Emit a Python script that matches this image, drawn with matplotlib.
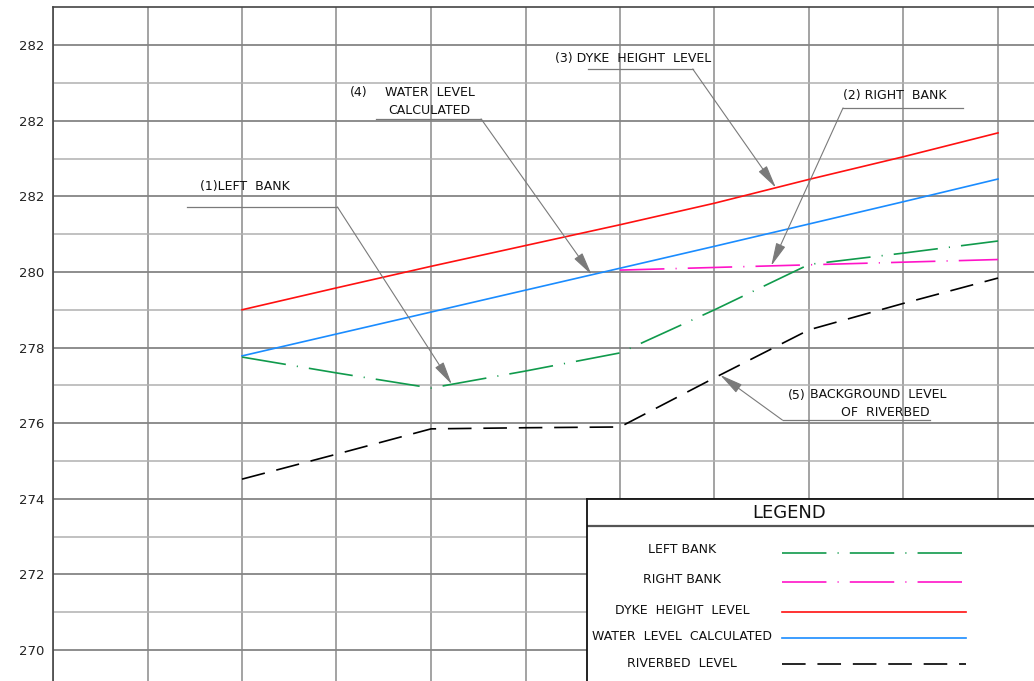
import numpy as np
import matplotlib
matplotlib.use("Agg")
import matplotlib.pyplot as plt

plt.rcParams['font.family'] = ['DejaVu Sans']
plt.rcParams['lines.scale_dashes'] = False

# ---------------- data ----------------
stations = [2, 3, 4, 5, 6, 7, 8, 9, 10]
left_bank = [277.75, 277.33, 276.93, 277.38, 277.86, 279.0, 280.2, 280.5, 280.82]
right_bank_x = [6, 10]
right_bank = [280.05, 280.33]
dyke = [279.0, 279.58, 280.15, 280.7, 281.25, 281.82, 282.45, 283.05, 283.68]
water = [277.78, 278.36, 278.94, 279.52, 280.1, 280.68, 281.27, 281.86, 282.46]
riverbed = [274.52, 275.18, 275.85, 275.88, 275.9, 277.2, 278.47, 279.17, 279.84]

ytick_vals = [286, 284, 282, 280, 278, 276, 274, 272, 270]
ytick_labels = ['282', '282', '282', '280', '278', '276', '274', '272', '270']

legend_labels = ['LEFT BANK', 'RIGHT BANK', 'DYKE  HEIGHT  LEVEL',
                 'WATER  LEVEL  CALCULATED', 'RIVERBED  LEVEL']

# ---------------- styles ----------------
C_GREEN = '#109a4c'
C_MAG = '#ff14c8'
C_RED = '#ff1010'
C_BLUE = '#1a8cff'
C_BLACK = '#000000'
DASHDOT = (0, (32, 8, 0.8, 8))
DASH = (0, (17, 8.5))
LW = 1.2

W, H = 1034, 681
fig = plt.figure(figsize=(W / 100, H / 100), dpi=100)
ax = fig.add_axes([53 / W, 0, (W - 53) / W, (H - 7) / H])
ax.set_xlim(0, (W - 53) / 94.5)
ax.set_ylim(270 - 31 / 37.8, 270 + 643 / 37.8)

# grid
for xv in range(0, 11):
    ax.axvline(xv, color='#8a8a8a', lw=1.1, zorder=1)
for yv in range(270, 287):
    if yv % 2 == 0:
        ax.axhline(yv, color='#858585', lw=1.3, zorder=1)
    else:
        ax.axhline(yv, color='#b0b0b0', lw=1.1, zorder=1)

for s in ['right', 'bottom']:
    ax.spines[s].set_visible(False)
for s in ['left', 'top']:
    ax.spines[s].set_color('#444444')
    ax.spines[s].set_linewidth(1.2)
ax.set_xticks([])
ax.set_yticks(ytick_vals)
ax.set_yticklabels(ytick_labels, fontsize=9.5, color='#222222')
ax.tick_params(axis='y', length=0, pad=6)

# series
ax.plot(stations, dyke, color=C_RED, lw=LW, zorder=3)
ax.plot(stations, water, color=C_BLUE, lw=LW, zorder=3)
ax.plot(stations, left_bank, color=C_GREEN, lw=LW, linestyle=DASHDOT, zorder=3)
ax.plot(right_bank_x, right_bank, color=C_MAG, lw=LW, linestyle=DASHDOT, zorder=3)
ax.plot(stations, riverbed, color=C_BLACK, lw=LW, linestyle=DASH, zorder=3)

# annotations
LEAD = '#7a7a7a'
TF = dict(fontsize=9, color='#111111', ha='center', va='center', zorder=5)
AP = dict(arrowstyle='-|>,head_length=1.3,head_width=0.28', color=LEAD, lw=0.8,
          shrinkA=0, shrinkB=0, mutation_scale=11)


def leader(x0, x1, y, start_x, tip_x, xs, ys):
    ax.plot([x0, x1], [y, y], color=LEAD, lw=0.9, zorder=4)
    tip_y = float(np.interp(tip_x, xs, ys))
    ax.annotate('', xy=(tip_x, tip_y), xytext=(start_x, y), arrowprops=AP, zorder=4)


# (1) left bank
ax.text(2.03, 282.25, '(1)LEFT  BANK', **TF)
leader(1.42, 3.01, 281.72, 3.01, 4.22, stations, left_bank)
# (4) water level calculated
ax.text(3.24, 284.74, '(4)', **TF)
ax.text(3.99, 284.74, 'WATER  LEVEL', **TF)
ax.text(3.98, 284.26, 'CALCULATED', **TF)
leader(3.42, 4.53, 284.05, 4.53, 5.70, stations, water)
# (3) dyke height level
ax.text(6.14, 285.66, '(3) DYKE  HEIGHT  LEVEL', **TF)
leader(5.66, 6.77, 285.37, 6.77, 7.65, stations, dyke)
# (2) right bank
ax.text(8.91, 284.66, '(2) RIGHT  BANK', **TF)
leader(8.36, 9.63, 284.34, 8.36, 7.6, right_bank_x, right_bank)
# (5) background level of riverbed
ax.text(7.87, 276.72, '(5)', **TF)
ax.text(8.73, 276.77, 'BACKGROUND  LEVEL', **TF)
ax.text(8.81, 276.27, 'OF  RIVERBED', **TF)
leader(7.72, 9.28, 276.08, 7.72, 7.06, stations, riverbed)

# ---------------- legend box ----------------
lax = fig.add_axes([587 / W, 0, (W - 587) / W, (H - 499) / H], zorder=10)
lax.set_xlim(587, W)
lax.set_ylim(H, 499)
lax.set_facecolor('white')
lax.set_xticks([])
lax.set_yticks([])
for s in ['right', 'bottom']:
    lax.spines[s].set_visible(False)
for s in ['left', 'top']:
    lax.spines[s].set_color('#111111')
    lax.spines[s].set_linewidth(1.3)
lax.axhline(526.5, color='#555555', lw=1.6)
lax.text(789, 513, 'LEGEND', fontsize=13, ha='center', va='center', color='#111111')

styles = [(C_GREEN, DASHDOT), (C_MAG, DASHDOT), (C_RED, '-'), (C_BLUE, '-'), (C_BLACK, DASH)]
label_y = [550, 580, 611, 637, 664]
line_y = [553, 582, 612, 638, 664]
for lab, (c, ls), ty, ly in zip(legend_labels, styles, label_y, line_y):
    lax.text(682, ty, lab, fontsize=9, ha='center', va='center', color='#111111')
    lax.plot([782, 966], [ly, ly], color=c, lw=LW, linestyle=ls)

fig.savefig('out.png', dpi=100)
